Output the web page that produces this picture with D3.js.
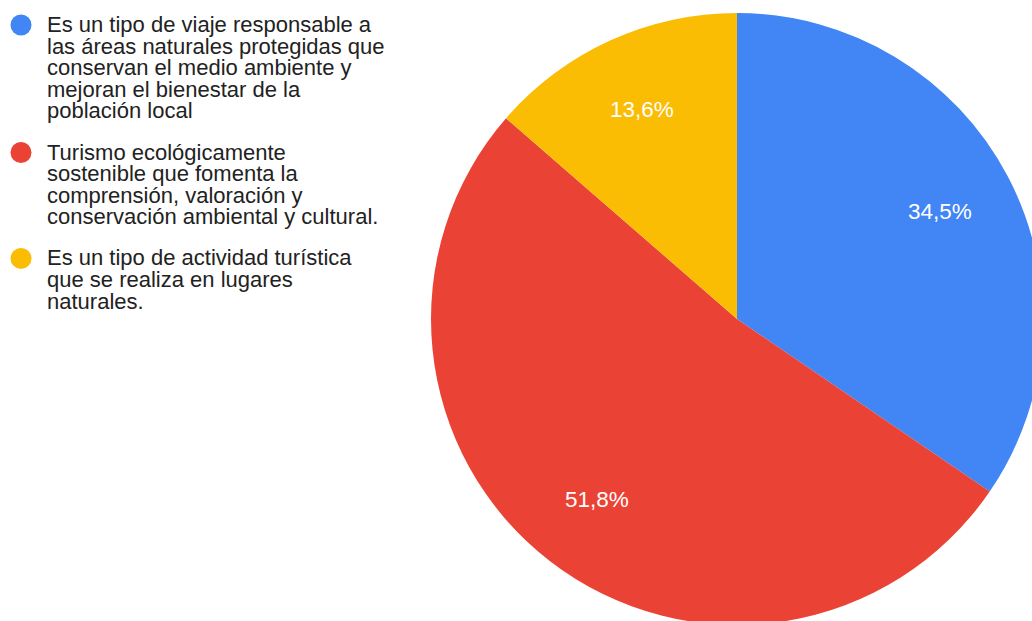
<!DOCTYPE html>
<html>
<head>
<meta charset="utf-8">
<script src="https://cdn.jsdelivr.net/npm/d3@7"></script>
<style>
  html, body { margin: 0; padding: 0; background: #fff; overflow: hidden; }
  svg { display: block; }
</style>
</head>
<body>
<svg id="chart" width="1032" height="621"></svg>
<script>
// Survey answers: what is ecotourism?
const categories = [
  ["Es un tipo de viaje responsable a", "las áreas naturales protegidas que", "conservan el medio ambiente y", "mejoran el bienestar de la", "población local"],
  ["Turismo ecológicamente", "sostenible que fomenta la", "comprensión, valoración y", "conservación ambiental y cultural."],
  ["Es un tipo de actividad turística", "que se realiza en lugares", "naturales."]
];
const values = [34.5, 51.8, 13.6];
const valueLabels = ["34,5%", "51,8%", "13,6%"];
const colors = ["#4285f4", "#ea4335", "#fbbc04"];

const svg = d3.select("#chart");
const font = "Arial, 'Liberation Sans', sans-serif";

// ---- pie ----
const cx = 737, cy = 319, radius = 306;
const color = d3.scaleOrdinal().domain(d3.range(values.length)).range(colors);

const pie = d3.pie().sort(null).value(d => d);
const arcs = pie(values);
const arc = d3.arc().innerRadius(0).outerRadius(radius);
const labelArc = d3.arc().innerRadius(radius * 0.75).outerRadius(radius * 0.75);

const g = svg.append("g").attr("transform", `translate(${cx},${cy})`);

g.selectAll("path.slice")
  .data(arcs)
  .join("path")
  .attr("class", "slice")
  .attr("d", arc)
  .attr("fill", (d, i) => color(i));

g.selectAll("text.value")
  .data(arcs)
  .join("text")
  .attr("class", "value")
  .attr("transform", d => `translate(${labelArc.centroid(d)})`)
  .attr("text-anchor", "middle")
  .attr("dy", "0.3em")
  .attr("fill", "#fff")
  .style("font-family", font)
  .style("font-size", "22.5px")
  .text((d, i) => valueLabels[i]);

// ---- legend ----
const lineH = 21.6, itemGap = 19.5;
const legend = svg.append("g").attr("transform", "translate(0,32)");
let y = 0;
categories.forEach((lines, i) => {
  const item = legend.append("g").attr("transform", `translate(0,${y})`);
  item.append("circle")
    .attr("cx", 21).attr("cy", -7).attr("r", 10.5)
    .attr("fill", color(i));
  const t = item.append("text")
    .attr("x", 47)
    .attr("fill", "#222")
    .style("font-family", font)
    .style("font-size", "22px");
  lines.forEach((ln, k) => {
    t.append("tspan").attr("x", 47).attr("y", k * lineH).text(ln);
  });
  y += lines.length * lineH + itemGap;
});
</script>
</body>
</html>
